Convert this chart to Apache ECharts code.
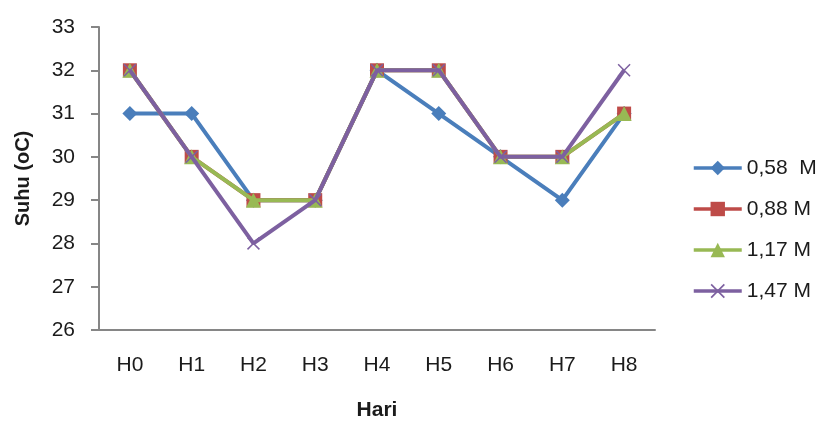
<!DOCTYPE html>
<html>
<head>
<meta charset="utf-8">
<script src="https://cdn.jsdelivr.net/npm/echarts@6/dist/echarts.min.js"></script>
<style>
  html, body { margin: 0; padding: 0; background: #fff; }
  #chart { width: 820px; height: 426px; }
</style>
</head>
<body>
<div id="chart"></div>
<script>
// Daily temperature (Suhu) per concentration
const days = ['H0', 'H1', 'H2', 'H3', 'H4', 'H5', 'H6', 'H7', 'H8'];
const seriesNames = ['0,58  M', '0,88 M', '1,17 M', '1,47 M'];
const s058 = [31, 31, 29, 29, 32, 31, 30, 29, 31];
const s088 = [32, 30, 29, 29, 32, 32, 30, 30, 31];
const s117 = [32, 30, 29, 29, 32, 32, 30, 30, 31];
const s147 = [32, 30, 28, 29, 32, 32, 30, 30, 32];
const yMin = 26, yMax = 33, yStep = 1;

const FONT = '"Liberation Sans", Arial, sans-serif';
const TEXT = '#1b1b1b';
const AXIS = '#868686';

const colors = ['#4A7EBB', '#BE4B48', '#98B954', '#7D60A0'];
const crossPath = 'path://M0,1L1,0L6,5L11,0L12,1L7,6L12,11L11,12L6,7L1,12L0,11L5,6Z';
const symbols = ['diamond', 'rect', 'triangle', crossPath];
const sizes = [15, 14, 15, 13];
const values = [s058, s088, s117, s147];

const chart = echarts.init(document.getElementById('chart'));
chart.setOption({
  animation: false,
  backgroundColor: '#fff',
  grid: { left: 99, right: 165, top: 27, bottom: 93 },
  legend: {
    orient: 'vertical',
    left: 692,
    top: 157,
    padding: 0,
    itemWidth: 48,
    itemHeight: 18,
    itemGap: 19,
    lineStyle: { width: 3.5 },
    textStyle: { fontFamily: FONT, fontSize: 21, color: TEXT, lineHeight: 22 },
    data: seriesNames
  },
  xAxis: {
    type: 'category',
    data: days,
    boundaryGap: true,
    axisLine: { lineStyle: { color: AXIS, width: 2 } },
    axisTick: { show: false },
    axisLabel: { fontFamily: FONT, fontSize: 21, color: TEXT, margin: 25 },
    name: 'Hari',
    nameLocation: 'middle',
    nameGap: 70,
    nameTextStyle: { fontFamily: FONT, fontSize: 21, fontWeight: 'bold', color: TEXT }
  },
  yAxis: {
    type: 'value',
    min: yMin,
    max: yMax,
    interval: yStep,
    splitLine: { show: false },
    axisLine: { show: true, lineStyle: { color: AXIS, width: 2 } },
    axisTick: { show: true, length: 8, lineStyle: { color: AXIS, width: 2 } },
    axisLabel: { fontFamily: FONT, fontSize: 21, color: TEXT, margin: 24 },
    name: 'Suhu (oC)',
    nameLocation: 'middle',
    nameRotate: 90,
    nameGap: 66,
    nameTextStyle: { fontFamily: FONT, fontSize: 20, fontWeight: 'bold', color: TEXT }
  },
  series: seriesNames.map((name, i) => ({
    name: name,
    type: 'line',
    data: values[i],
    z: 2 + i,
    symbol: symbols[i],
    symbolSize: sizes[i],
    showAllSymbol: true,
    lineStyle: { color: colors[i], width: 4 },
    itemStyle: { color: colors[i], borderWidth: 0 },
    emphasis: { disabled: true }
  }))
});
</script>
</body>
</html>
